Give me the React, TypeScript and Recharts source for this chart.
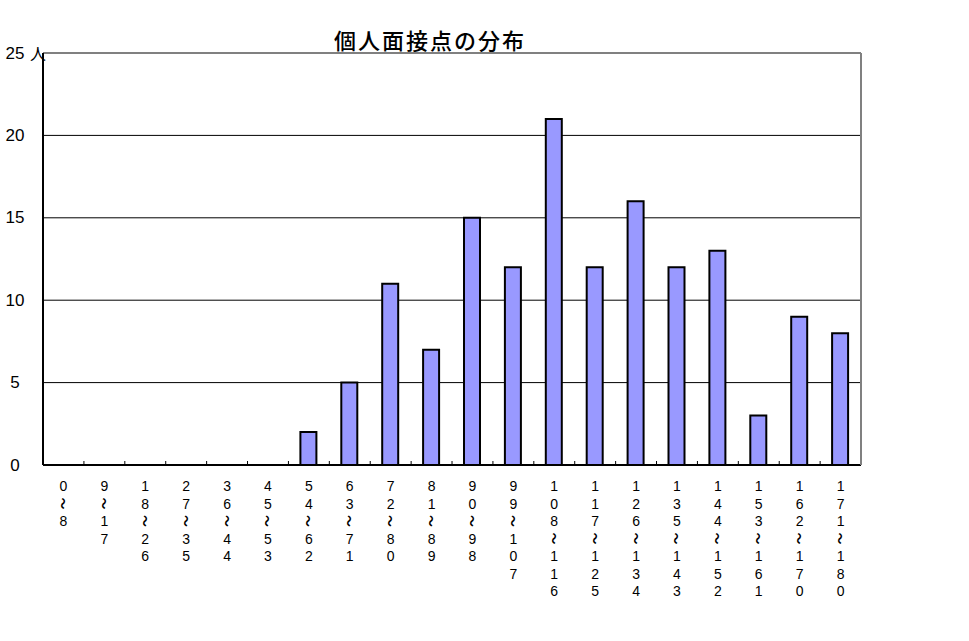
import { BarChart, Bar, XAxis, YAxis, CartesianGrid, ReferenceLine } from 'recharts';

const ranges = [
  '0～8', '9～17', '18～26', '27～35', '36～44', '45～53', '54～62', '63～71', '72～80', '81～89',
  '90～98', '99～107', '108～116', '117～125', '126～134', '135～143', '144～152', '153～161', '162～170', '171～180',
];
const counts = [0, 0, 0, 0, 0, 0, 2, 5, 11, 7, 15, 12, 21, 12, 16, 12, 13, 3, 9, 8];
const yTicks = [0, 5, 10, 15, 20, 25];

const data = ranges.map((range, i) => ({ range, count: counts[i] }));

const FONT = '"Noto Sans CJK JP", "DejaVu Sans", sans-serif';
const DIGITS = '"Liberation Sans", Arial, sans-serif';
const BAND = (862 - 43) / ranges.length;

function RangeTick(props: any) {
  const { x, y, payload, index } = props;
  const chars = Array.from(String(payload.value));
  return (
    <g>
      {index < ranges.length - 1 && (
        <line x1={x + BAND / 2} x2={x + BAND / 2} y1={y} y2={y - 4} stroke="#000" strokeWidth={1} />
      )}
      {chars.map((c, i) => {
        const cy = y + 21 + i * 17.5;
        return c === '～' ? (
          <text key={i} x={x} y={cy} textAnchor="middle" dominantBaseline="central" fontSize={12} fontWeight="bold"
            fontFamily={FONT} fill="#000" transform={`rotate(90 ${x} ${cy})`}>{c}</text>
        ) : (
          <text key={i} x={x} y={cy} textAnchor="middle" dominantBaseline="central" fontSize={14}
            fontFamily={DIGITS} fill="#000">{c}</text>
        );
      })}
    </g>
  );
}

function CountTick(props: any) {
  const { y, payload } = props;
  return (
    <g>
      <text x={15} y={y} textAnchor="middle" dominantBaseline="central" fontSize={17} fontFamily={DIGITS} fill="#000">
        {payload.value}
      </text>
      {payload.value === 25 && (
        <text x={38} y={y} textAnchor="middle" dominantBaseline="central" fontSize={16} fontFamily={FONT} fill="#000">
          人
        </text>
      )}
    </g>
  );
}

export default function App() {
  return (
    <div style={{ position: 'absolute', left: 0, top: 0, width: 969, height: 641, background: '#fff' }}>
      <svg width={969} height={60} style={{ position: 'absolute', left: 0, top: 0 }}>
        <text x={430} y={39} textAnchor="middle" dominantBaseline="central" fontSize={22} fontWeight={500}
          fontFamily={FONT} letterSpacing={2} fill="#000">
          個人面接点の分布
        </text>
      </svg>
      <BarChart
        width={969}
        height={641}
        data={data}
        margin={{ top: 53, right: 107, left: 0, bottom: 0 }}
        barSize={16}
        style={{ position: 'absolute', left: 0, top: 0 }}
      >
        <CartesianGrid vertical={false} stroke="#000" strokeWidth={1} />
        <ReferenceLine y={25} stroke="#808080" strokeWidth={2} />
        <XAxis
          dataKey="range"
          interval={0}
          height={176}
          tickSize={0}
          tickMargin={0}
          tickLine={false}
          axisLine={{ stroke: '#000', strokeWidth: 2 }}
          tick={<RangeTick />}
        />
        <YAxis
          domain={[0, 25]}
          ticks={yTicks}
          width={43}
          tickLine={false}
          axisLine={{ stroke: '#000', strokeWidth: 2 }}
          tick={<CountTick />}
        />
        <YAxis
          yAxisId="frame"
          orientation="right"
          domain={[0, 25]}
          width={1}
          tick={false}
          tickLine={false}
          axisLine={{ stroke: '#808080', strokeWidth: 2 }}
        />
        <Bar dataKey="count" fill="#9999FF" stroke="#000" strokeWidth={2} isAnimationActive={false} />
      </BarChart>
    </div>
  );
}
